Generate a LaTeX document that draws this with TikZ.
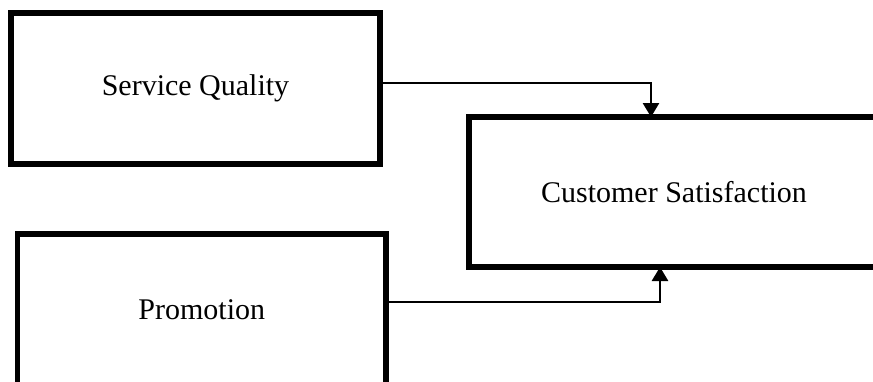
\documentclass[tikz,border=0pt]{standalone}
\usepackage{fontspec}
\setmainfont{Liberation Serif}
\usetikzlibrary{arrows.meta}
\begin{document}
\begin{tikzpicture}[x=1pt,y=-1pt,
  varbox/.style={draw=black,line width=5.5pt,rectangle,inner sep=0pt,outer sep=0pt,
    font=\fontsize{30}{36}\selectfont},
  conn/.style={draw=black,line width=2.7pt,
    -{Triangle[width=16pt,length=14pt]}}]
  \clip (0,0) rectangle (873,381);
  \fill[white] (0,0) rectangle (873,381);

  % variable boxes
  \node[varbox,minimum width=369pt,minimum height=151pt] (sq) at (195.5,88.5) {Service Quality};
  \node[varbox,minimum width=410pt,minimum height=150pt] (cs) at (674,192) {Customer Satisfaction};
  \node[varbox,minimum width=368.5pt,minimum height=152pt] (pr) at (201.75,310) {Promotion};

  % bend points of the connectors
  \coordinate (b1) at (651,83);
  \coordinate (b2) at (660,302);

  \draw[conn] (sq.east |- b1) -- (b1) -- (b1 |- cs.north);
  \draw[conn] (pr.east |- b2) -- (b2) -- (b2 |- cs.south);
\end{tikzpicture}
\end{document}
